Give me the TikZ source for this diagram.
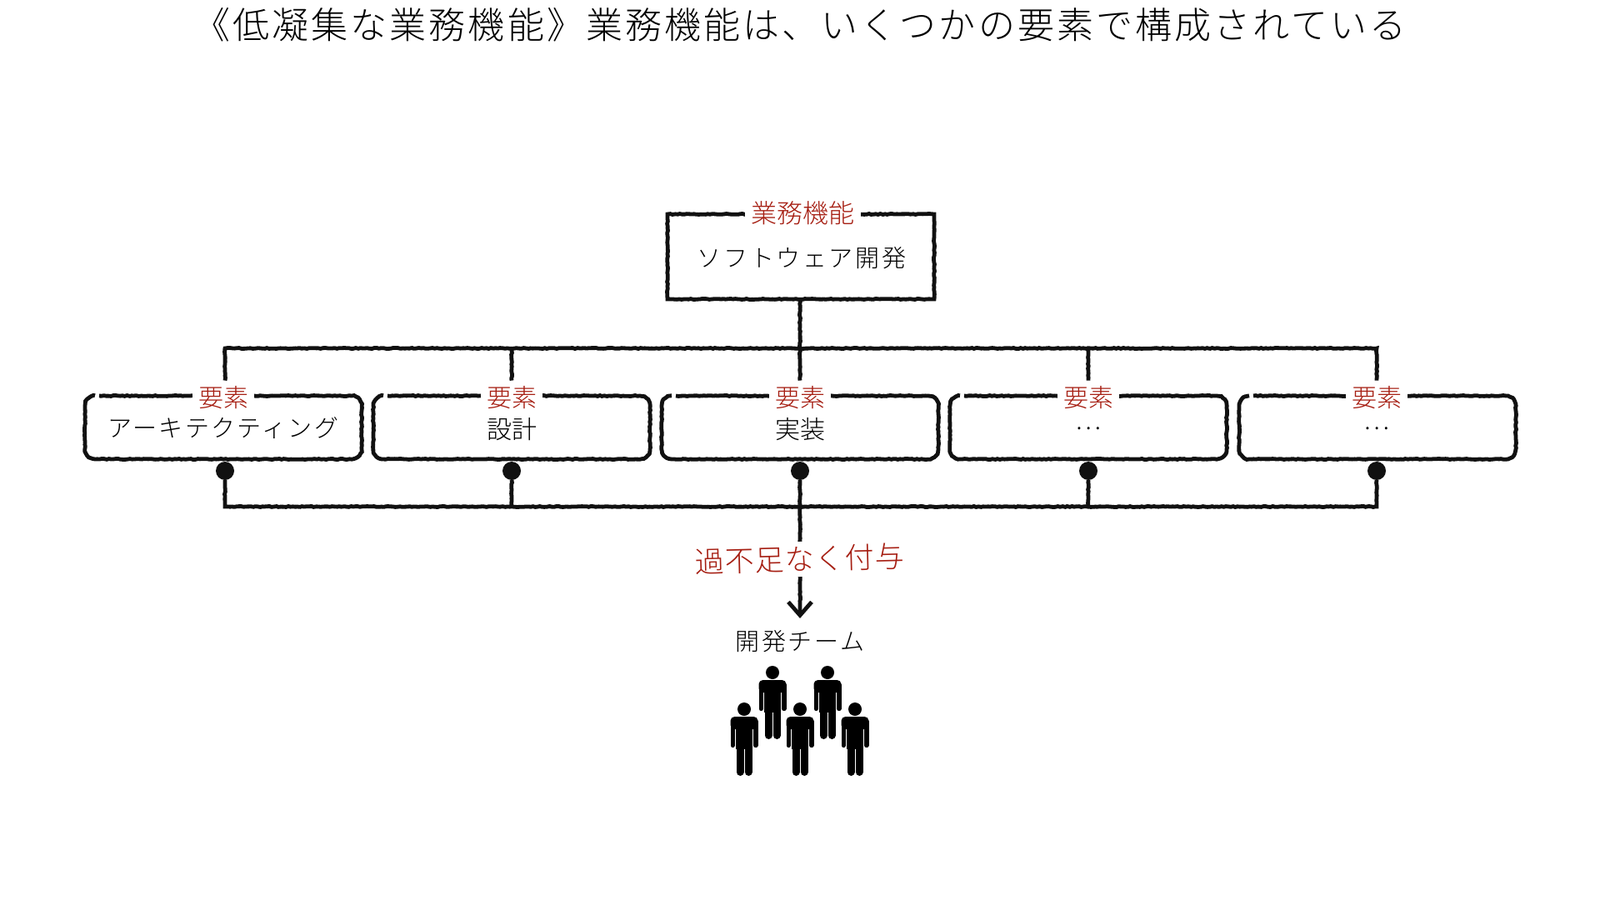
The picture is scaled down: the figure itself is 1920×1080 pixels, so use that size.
\documentclass[tikz,border=0pt]{standalone}
\usepackage{fontspec}
\setmainfont{Noto Sans CJK JP}[UprightFont=* Light,BoldFont=*]
\usetikzlibrary{decorations.pathmorphing,arrows.meta}
\definecolor{accent}{HTML}{A61E12}
\definecolor{ink}{HTML}{111111}
\newcommand{\pxfont}[2]{\fontsize{#1pt}{#1pt}\selectfont\addfontfeatures{LetterSpace=#2}}
\newcommand{\personfig}[2]{%
  \begin{scope}[shift={(#1,#2)}]
    \fill[black] (0,0) circle[radius=8];
    \fill[black,rounded corners=2.5pt] (-16.5,9) rectangle (16.5,24);
    \fill[black] (-10,15) rectangle (10,48);
    \draw[black,line width=2.65pt,line cap=round] (-13.85,15) -- (-13.85,43.5);
    \draw[black,line width=2.65pt,line cap=round] (13.85,15) -- (13.85,43.5);
    \draw[black,line width=4.5pt,line cap=round] (-5,40) -- (-5,75.5);
    \draw[black,line width=4.5pt,line cap=round] (5,40) -- (5,75.5);
  \end{scope}}
\tikzset{
  x=0.5pt,y=-0.5pt,
  rough/.style={draw=ink,line width=2.4pt,decorate,
    decoration={random steps,segment length=1.4pt,amplitude=.25pt}},
  topbox/.style={rough,fill=white,minimum width=160pt,minimum height=51pt,inner sep=0pt,outer sep=0pt,anchor=north west},
  elembox/.style={minimum width=166pt,minimum height=38pt,inner sep=0pt,outer sep=0pt,anchor=north west},
  redtag/.style={fill=white,text=accent,inner sep=0pt,minimum height=20pt},
  bodytext/.style={text=black,inner sep=0pt},
  jdot/.style={circle,fill=ink,draw=none,minimum size=11pt,inner sep=0pt,outer sep=0pt},
}
\begin{document}
\begin{tikzpicture}
\useasboundingbox (0,0) rectangle (1920,1080);
\node[bodytext] (title) at (960,30) {\pxfont{22}{7}《低凝集な業務機能》業務機能は、いくつかの要素で構成されている};

% top box
\node[topbox] (top) at (801,257) {};
\node[redtag,minimum width=69.5pt,minimum height=16pt] (topTag) at (963,256) {\pxfont{15.5}{0}業務機能};
\node[bodytext] (topText) at (962,310) {\pxfont{14.5}{9}ソフトウェア開発};

% element boxes
\foreach \n/\x/\c/\dx in {1/102/268/270,2/448/614/614,3/794/960/960,4/1140/1306/1306,5/1487/1652/1652}{
  \node[elembox] (b\n) at (\x,475) {};
  \draw[rough] ([xshift=8.5pt]b\n.north west) -- ([xshift=-6pt]b\n.north east)
     arc[start angle=90,end angle=0,radius=6pt] -- ([yshift=6pt]b\n.south east)
     arc[start angle=0,end angle=-90,radius=6pt] -- ([xshift=6pt]b\n.south west)
     arc[start angle=270,end angle=180,radius=6pt] -- ([yshift=-6pt]b\n.north west)
     arc[start angle=180,end angle=90,radius=6pt];
  \node[redtag,minimum width=37pt] (t\n) at (\c,477) {\pxfont{15}{0}要素};
  \node[jdot] (d\n) at (\dx,565) {};
}
\node[bodytext] at (268,514) {\pxfont{14.5}{8}アーキテクティング};
\node[bodytext] at (614,515) {\pxfont{15}{0}設計};
\node[bodytext] at (960,515) {\pxfont{15}{0}実装};
\node[bodytext] at (1306,514) {\pxfont{15}{0}…};
\node[bodytext] at (1652,514) {\pxfont{15}{0}…};

% upper bus
\coordinate (busT) at (960,418);
\coordinate (busB) at (960,608);
\draw[rough] (top.south -| t3.north) -- (t3.north);
\draw[rough] (d1.north |- t1.north) |- (t5.north |- busT) -- (t5.north);
\draw[rough] (t2.north) -- (t2.north |- busT);
\draw[rough] (t4.north) -- (t4.north |- busT);

% lower bus
\draw[rough] (d1.south) |- (d5.south |- busB) -- (d5.south);
\draw[rough] (d2.south) -- (d2.south |- busB);
\draw[rough] (d4.south) -- (d4.south |- busB);

% team
\node[bodytext,minimum height=32pt] (team) at (960,770) {\pxfont{14.5}{9}開発チーム};
\coordinate (teamTip) at (960,742);
\draw[draw=ink,line width=2.4pt,-{Straight Barb[length=8pt,width=14pt,line width=2.4pt]},
      decorate,decoration={random steps,segment length=1.4pt,amplitude=.25pt,post=lineto,post length=8pt}]
  (d3.south) -- (teamTip);
\node[fill=white,text=accent,inner sep=0pt,minimum height=21pt,rotate=1.5] (grant) at (960,671) {\pxfont{17.5}{3}過不足なく付与};

% people
\personfig{927}{807}
\personfig{993}{807}
\personfig{893}{851}
\personfig{960}{851}
\personfig{1026}{851}
\end{tikzpicture}
\end{document}
